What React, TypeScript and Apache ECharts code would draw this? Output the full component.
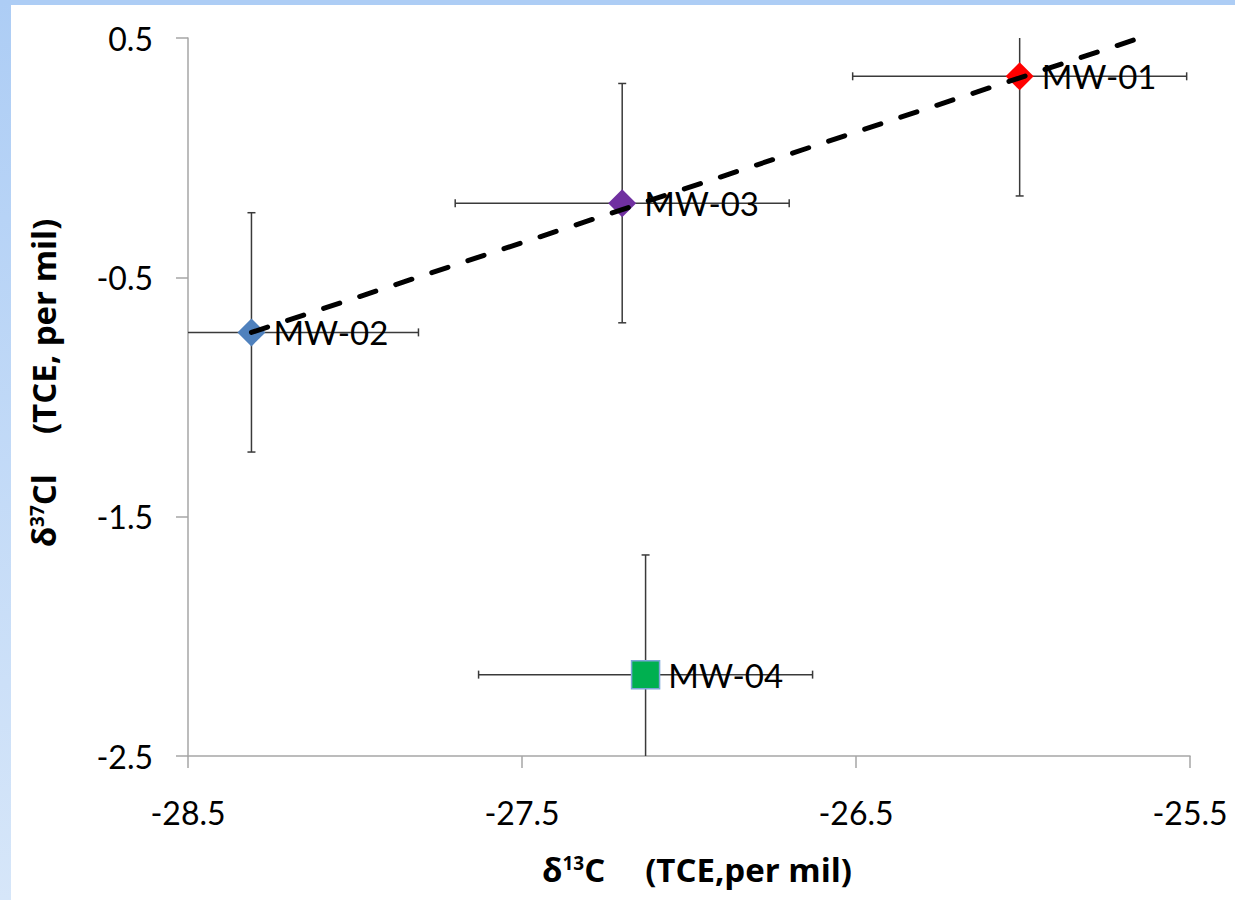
import React, { useEffect, useRef } from "react";
import * as echarts from "echarts";

const names = ["MW-01", "MW-02", "MW-03", "MW-04"];
const d13C = [-26.01, -28.31, -27.2, -27.13];
const d37Cl = [0.34, -0.73, -0.19, -2.16];
const errC = [0.5, 0.5, 0.5, 0.5];
const errCl = [0.5, 0.5, 0.5, 0.5];
const colors = ["#ff0000", "#4f81bd", "#7030a0", "#00b050"];
const symbols = ["diamond", "diamond", "diamond", "rect"];
const trendX = [-28.31, -25.65];
const trendY = [-0.73, 0.5];
const xTicks = [-28.5, -27.5, -26.5, -25.5];
const yTicks = [-2.5, -1.5, -0.5, 0.5];

const FONT = "Lato";
const TFONT = "Open Sans";

export default function App() {
  const ref = useRef<HTMLDivElement>(null);
  useEffect(() => {
    if (!ref.current) return;
    const chart = echarts.init(ref.current, undefined, { renderer: "svg" });
    const titleRich = {
      d: { fontFamily: TFONT, fontWeight: "bold", fontSize: 33, color: "#000" },
      s: { fontFamily: TFONT, fontWeight: "bold", fontSize: 19, color: "#000", verticalAlign: "top", lineHeight: 19 },
      g: { width: 40 },
    };
    const axisCommon = {
      type: "value",
      splitLine: { show: false },
      axisLine: { show: true, onZero: false, lineStyle: { color: "#a6a6a6", width: 1.5 } },
      axisTick: { show: true, length: 12, lineStyle: { color: "#a6a6a6", width: 1.5 } },
    };
    chart.setOption({
      animation: false,
      backgroundColor: "#ffffff",
      textStyle: { fontFamily: FONT },
      graphic: [
        { type: "rect", shape: { x: 0, y: 0, width: 1235, height: 5 }, style: { fill: "#adcdf5" }, silent: true },
        {
          type: "rect",
          shape: { x: 0, y: 0, width: 11, height: 900 },
          style: {
            fill: new echarts.graphic.LinearGradient(0, 0, 0, 1, [
              { offset: 0, color: "#adcdf5" },
              { offset: 1, color: "#d6e6f9" },
            ]),
          },
          silent: true,
        },
      ],
      grid: { left: 188, right: 45, top: 38, bottom: 144, containLabel: false },
      xAxis: {
        ...axisCommon,
        min: -28.5,
        max: -25.5,
        interval: 0.5,
        axisTick: { ...axisCommon.axisTick, customValues: xTicks },
        axisLabel: {
          customValues: xTicks,
          fontFamily: FONT,
          fontSize: 32,
          color: "#000",
          margin: 40,
          formatter: (v: number) => String(v),
        },
        name: "{d|δ}{s|13}{d|C}{g| }{d|(TCE,per mil)}",
        nameLocation: "middle",
        nameGap: 97,
        nameTextStyle: { rich: titleRich, padding: [0, 0, 0, 16] },
      },
      yAxis: {
        ...axisCommon,
        min: -2.5,
        max: 0.5,
        interval: 0.5,
        axisTick: { ...axisCommon.axisTick, customValues: yTicks },
        axisLabel: {
          customValues: yTicks,
          fontFamily: FONT,
          fontSize: 32,
          color: "#000",
          margin: 35,
          formatter: (v: number) => String(v),
        },
        name: "{d|δ}{s|37}{d|Cl}{g| }{d|(TCE, per mil)}",
        nameLocation: "middle",
        nameRotate: 90,
        nameGap: 128,
        nameTextStyle: { rich: titleRich, padding: [0, 0, 0, 28] },
      },
      series: [
        {
          type: "custom",
          z: 1,
          clip: true,
          encode: { x: 0, y: 1 },
          data: d13C.map((x, i) => [x, d37Cl[i], errC[i], errCl[i]]),
          renderItem: (params: any, api: any) => {
            const x = api.value(0);
            const y = api.value(1);
            const ex = api.value(2);
            const ey = api.value(3);
            const l = api.coord([x - ex, y]);
            const r = api.coord([x + ex, y]);
            const t = api.coord([x, y + ey]);
            const b = api.coord([x, y - ey]);
            const cap = 4;
            const style = { stroke: "#3a3a3a", lineWidth: 1.5 };
            const ln = (x1: number, y1: number, x2: number, y2: number) => ({
              type: "line",
              shape: { x1, y1, x2, y2 },
              style,
            });
            return {
              type: "group",
              children: [
                ln(l[0], l[1], r[0], r[1]),
                ln(t[0], t[1], b[0], b[1]),
                ln(l[0], l[1] - cap, l[0], l[1] + cap),
                ln(r[0], r[1] - cap, r[0], r[1] + cap),
                ln(t[0] - cap, t[1], t[0] + cap, t[1]),
                ln(b[0] - cap, b[1], b[0] + cap, b[1]),
              ],
            };
          },
        },
        {
          type: "scatter",
          z: 2,
          data: d13C.map((x, i) => ({
            name: names[i],
            value: [x, d37Cl[i]],
            symbol: symbols[i],
            symbolSize: 28,
            itemStyle:
              symbols[i] === "rect"
                ? { color: colors[i], borderColor: "#7ea6d8", borderWidth: 1.5, opacity: 1 }
                : { color: colors[i], opacity: 1 },
          })),
          label: {
            show: true,
            position: "right",
            distance: 8,
            formatter: (p: any) => p.name,
            fontFamily: FONT,
            fontSize: 33,
            color: "#000",
          },
        },
        {
          type: "line",
          z: 3,
          symbol: "none",
          data: trendX.map((x, i) => [x, trendY[i]]),
          lineStyle: { color: "#000", width: 5, type: [17, 21], cap: "round" },
        },
      ],
    });
    return () => chart.dispose();
  }, []);
  return (
    <div
      ref={ref}
      style={{ position: "fixed", left: 0, top: 0, width: 1235, height: 900 }}
    />
  );
}
